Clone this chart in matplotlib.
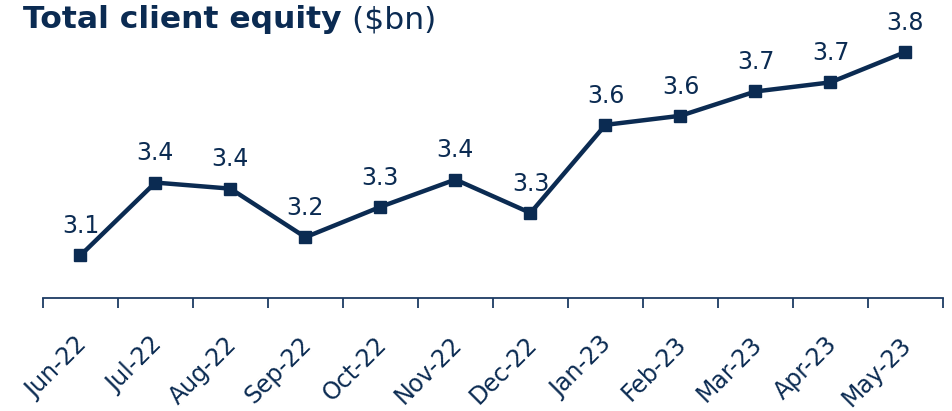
import matplotlib
matplotlib.use("Agg")
import matplotlib.pyplot as plt
import matplotlib.transforms as mtransforms
import numpy as np

months = ["Jun-22", "Jul-22", "Aug-22", "Sep-22", "Oct-22", "Nov-22",
          "Dec-22", "Jan-23", "Feb-23", "Mar-23", "Apr-23", "May-23"]
equity = [3.14, 3.38, 3.36, 3.20, 3.30, 3.39, 3.28, 3.57, 3.60, 3.68, 3.71, 3.81]

NAVY = "#0b2b52"
plt.rcParams["font.family"] = ["DejaVu Sans"]

fig = plt.figure(figsize=(9.53, 4.11), dpi=100)
ax = fig.add_axes([0.045, 0.275, 0.9445, 0.665])

x = np.arange(len(months))
ax.plot(x, equity, color=NAVY, lw=3.2, marker="s", ms=9, clip_on=False, zorder=3)
for xi, v in zip(x, equity):
    ax.annotate(f"{v:.1f}", (xi, v), xytext=(0, 16), textcoords="offset points",
                ha="center", va="baseline", fontsize=17, color=NAVY)

ax.set_xlim(-0.5, len(months) - 0.5)
ax.set_ylim(3.0, 3.9)
for s in ["top", "right", "left"]:
    ax.spines[s].set_visible(False)
ax.spines["bottom"].set_color("#1c3b63")
ax.spines["bottom"].set_linewidth(1.3)
ax.set_yticks([])
ax.set_xticks(np.arange(-0.5, len(months)), minor=False)
ax.set_xticklabels([])
ax.tick_params(axis="x", which="major", length=7, width=1.3, color="#1c3b63")
ax.set_xticks(x, minor=True)
ax.set_xticklabels(months, minor=True, rotation=45, ha="right",
                   rotation_mode="anchor", fontsize=17, color=NAVY)
ax.tick_params(axis="x", which="minor", length=0, pad=16)
shift = mtransforms.ScaledTranslation(-0.06, -0.12, fig.dpi_scale_trans)
for lbl in ax.get_xticklabels(minor=True):
    lbl.set_transform(lbl.get_transform() + shift)

yb = 1 - 28.5 / 411
t1 = fig.text(23 / 953, yb, "Total client equity", fontsize=22.6, fontweight="bold",
              color=NAVY, ha="left", va="baseline")
fig.canvas.draw()
bb = t1.get_window_extent()
fig.text(bb.x1 / fig.bbox.width, yb, " ($bn)", fontsize=22.6, color=NAVY,
         ha="left", va="baseline")

fig.savefig("out.png", dpi=100)
